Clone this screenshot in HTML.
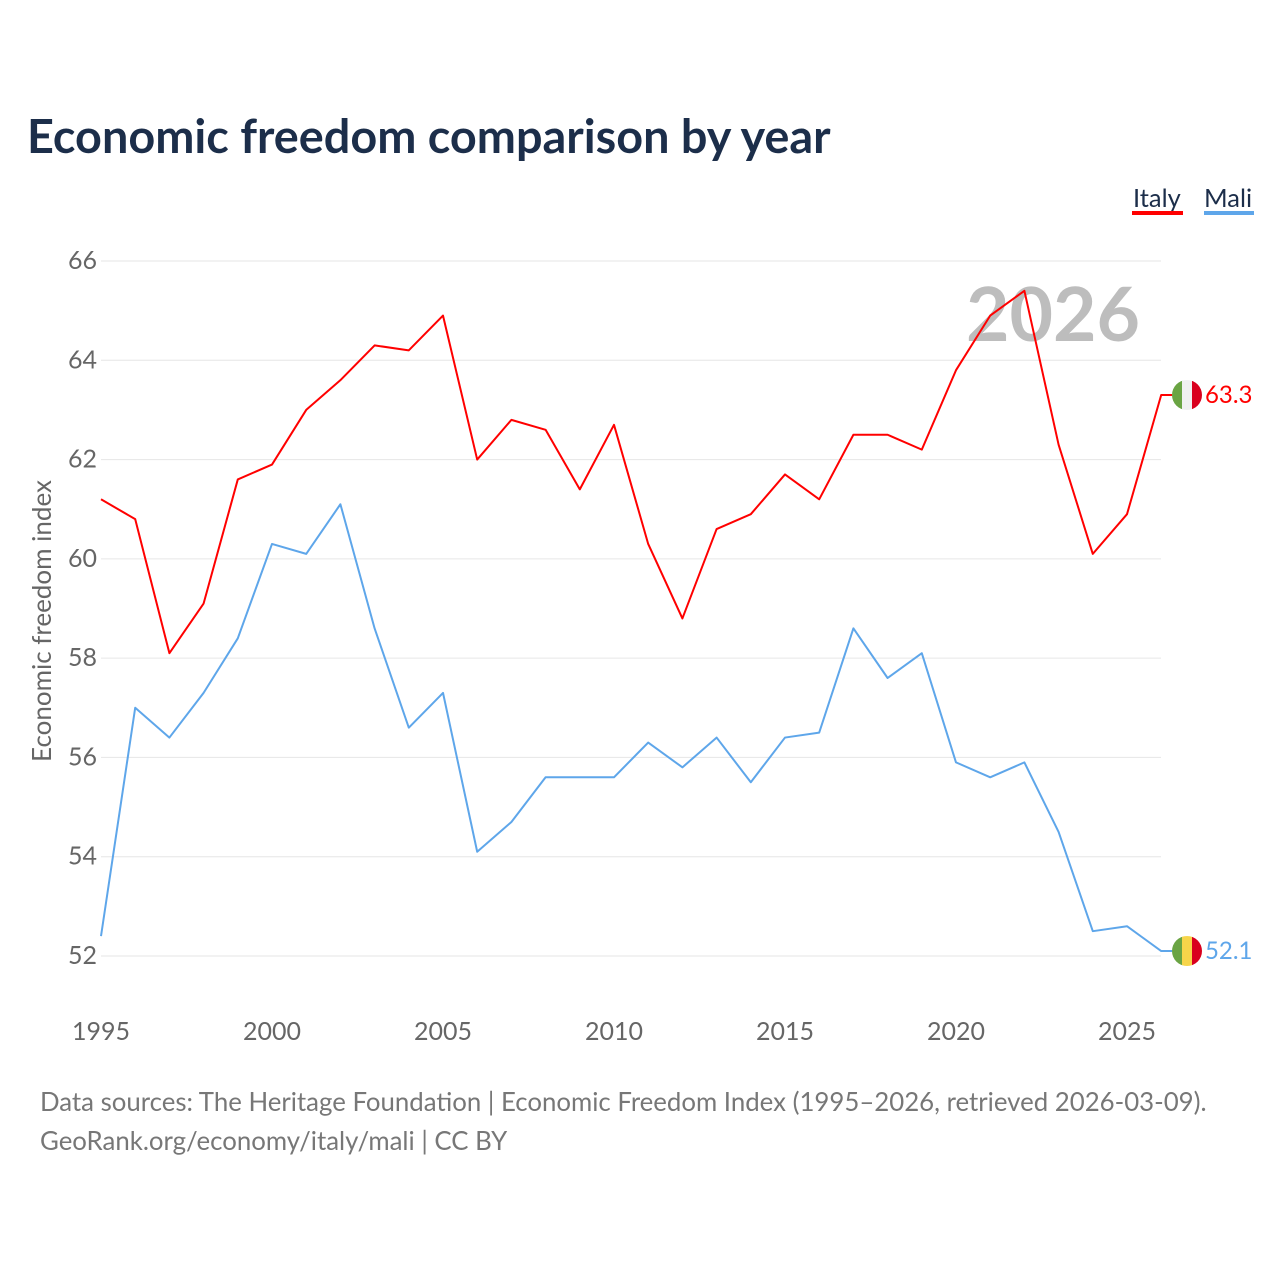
<!DOCTYPE html>
<html><head><meta charset="utf-8"><style>
body{margin:0;background:#fff;width:1280px;height:1280px;overflow:hidden;font-family:"Liberation Sans",sans-serif}
</style></head><body>
<svg id="chart" width="1280" height="1280" xmlns="http://www.w3.org/2000/svg" font-family="Lato, 'Liberation Sans', sans-serif">
<text x="27" y="153" font-size="46.8" font-weight="bold" fill="#1c2e4a">Economic freedom comparison by year</text>
<g><text x="1133" y="207" font-size="25.5" fill="#1c2e4a">Italy</text><rect x="1132" y="211" width="51" height="4" fill="#f00"/></g>
<g><text x="1204" y="207" font-size="25.5" fill="#1c2e4a">Mali</text><rect x="1204" y="211" width="50" height="4" fill="#5ea6ea"/></g>
<text x="1140" y="341" text-anchor="end" font-size="75" font-weight="bold" fill="#bdbdbd">2026</text>
<g id="grid"></g><g id="marks"></g>
<text transform="translate(51,621) rotate(-90)" text-anchor="middle" font-size="26" fill="#666">Economic freedom index</text>
<text x="40" y="1111" font-size="25.8" fill="#777">Data sources: The Heritage Foundation | Economic Freedom Index (1995–2026, retrieved 2026-03-09).</text>
<text x="40" y="1150" font-size="25.8" fill="#777">GeoRank.org/economy/italy/mali | CC BY</text>
</svg>
<script>
const years=[1995,1996,1997,1998,1999,2000,2001,2002,2003,2004,2005,2006,2007,2008,2009,2010,2011,2012,2013,2014,2015,2016,2017,2018,2019,2020,2021,2022,2023,2024,2025,2026];
const italy=[61.2,60.8,58.1,59.1,61.6,61.9,63.0,63.6,64.3,64.2,64.9,62.0,62.8,62.6,61.4,62.7,60.3,58.8,60.6,60.9,61.7,61.2,62.5,62.5,62.2,63.8,64.9,65.4,62.3,60.1,60.9,63.3];
const mali=[52.4,57.0,56.4,57.3,58.4,60.3,60.1,61.1,58.6,56.6,57.3,54.1,54.7,55.6,55.6,55.6,56.3,55.8,56.4,55.5,56.4,56.5,58.6,57.6,58.1,55.9,55.6,55.9,54.5,52.5,52.6,52.1];
const yTicks=[52,54,56,58,60,62,64,66];
const xTicks=[1995,2000,2005,2010,2015,2020,2025];
const NS="http://www.w3.org/2000/svg";
const X=y=>101+(y-1995)*(1127-101)/30;
const Y=v=>956-(v-52)*(956-261)/14;
const grid=document.getElementById('grid'),marks=document.getElementById('marks');
function mk(t,a,p){const e=document.createElementNS(NS,t);for(const k in a)e.setAttribute(k,a[k]);p.appendChild(e);return e;}
yTicks.forEach(v=>{
 const l=mk('line',{x1:101,x2:1161,y1:Y(v),y2:Y(v),stroke:'#e6e6e6','stroke-width':1},grid);
 
 
 const t=mk('text',{x:97,y:Y(v)+8,'text-anchor':'end','font-size':25,fill:'#666'},grid);t.textContent=v;
 
 
});
xTicks.forEach(v=>{
 const t=mk('text',{x:X(v),y:1040,'text-anchor':'middle','font-size':25,fill:'#666'},grid);t.textContent=v;
 
 
});
function series(vals,color,name,flag){
 const pts=vals.map((v,i)=>X(years[i])+','+Y(v));
 const last=vals[vals.length-1];
 pts.push((X(2026)+11)+','+Y(last));
 const p=mk('polyline',{points:pts.join(' '),fill:'none',stroke:color,'stroke-width':2,'stroke-linejoin':'round'},marks);
 
 
 const cx=1187,cy=Y(last),r=15;
 const g=mk('g',{},marks);
 
 
 const cid='clip'+name;
 const cp=mk('clipPath',{id:cid},g);mk('circle',{cx:cx,cy:cy,r:r},cp);
 flag.forEach((c,i)=>mk('rect',{x:cx-r+i*2*r/3,y:cy-r,width:2*r/3+0.5,height:2*r,fill:c,'clip-path':'url(#'+cid+')'},g));
 const t=mk('text',{x:1205,y:cy+8,'font-size':24,fill:color},marks);t.textContent=last.toFixed(1);
 
 
}
series(italy,'#ff0000','italy',['#6aa443','#f0f0f0','#d9001e']);
series(mali,'#5ea6ea','mali',['#6aa443','#f7d54a','#d9001e']);
</script>
</body></html>
